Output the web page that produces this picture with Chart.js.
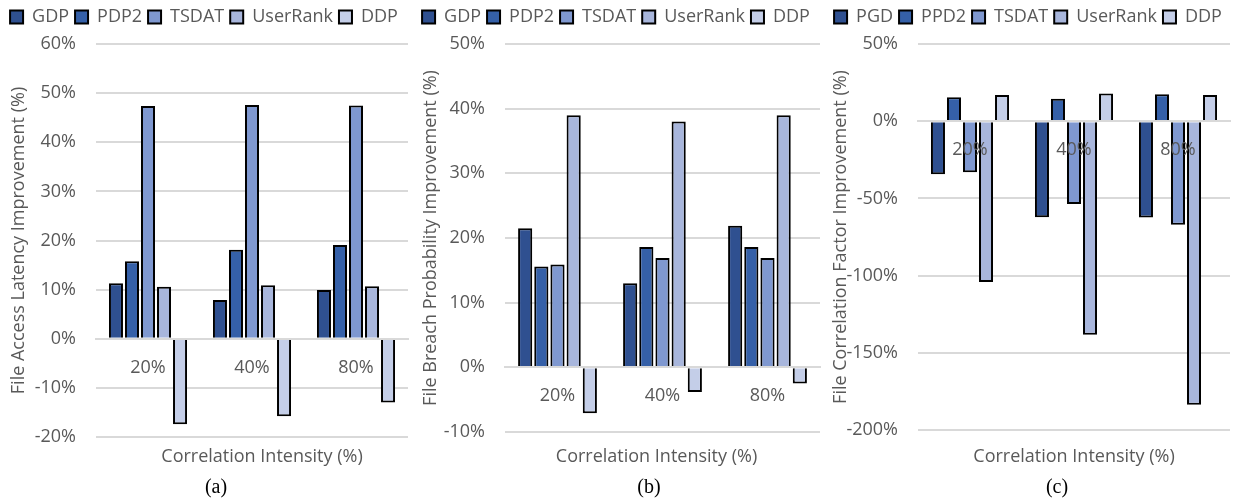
<!DOCTYPE html>
<html>
<head>
<meta charset="utf-8">
<script src="https://cdn.jsdelivr.net/npm/chart.js@4.4.1/dist/chart.umd.min.js"></script>
<style>
  html, body { margin: 0; padding: 0; background: #ffffff; }
  #wrap { position: relative; width: 1236px; height: 500px; overflow: hidden; }
  canvas { position: absolute; top: 0; }
</style>
</head>
<body>
<div id="wrap">
  <canvas id="chartA" width="412" height="500" style="left:0px"></canvas>
  <canvas id="chartB" width="414" height="500" style="left:412px"></canvas>
  <canvas id="chartC" width="410" height="500" style="left:826px"></canvas>
</div>
<script>
// ---- data ----
const categories = ['20%', '40%', '80%'];
const seriesNamesAB = ['GDP', 'PDP2', 'TSDAT', 'UserRank', 'DDP'];
const seriesNamesC = ['PGD', 'PPD2', 'TSDAT', 'UserRank', 'DDP'];

// (a) File access latency improvement (%)
const latencyGDP      = [11.3, 7.9, 9.9];
const latencyPDP2     = [15.8, 18.1, 19.1];
const latencyTSDAT    = [47.4, 47.6, 47.5];
const latencyUserRank = [10.6, 10.9, 10.7];
const latencyDDP      = [-17.4, -15.8, -13.0];

// (b) File breach probability improvement (%)
const breachGDP      = [21.5, 13.0, 21.9];
const breachPDP2     = [15.6, 18.6, 18.6];
const breachTSDAT    = [15.9, 16.9, 16.9];
const breachUserRank = [39.0, 38.0, 39.0];
const breachDDP      = [-7.1, -3.8, -2.5];

// (c) File correlation factor improvement (%)
const corrPGD      = [-34.3, -62.2, -62.4];
const corrPPD2     = [15.5, 14.5, 17.5];
const corrTSDAT    = [-33.0, -53.7, -67.1];
const corrUserRank = [-104.2, -138.3, -183.7];
const corrDDP      = [17.0, 17.9, 17.0];

// y-axis tick ranges
const latencyTicks = { min: -20, max: 60, step: 10 };
const breachTicks  = { min: -10, max: 50, step: 10 };
const corrTicks    = { min: -200, max: 50, step: 50 };

// ---- styling ----
const palette = ['#2F5090', '#3560A8', '#7F98D0', '#A8B6DC', '#C4CEE8'];
const textGray = '#595959';
const gridGray = '#d9d9d9';
const sansFamily = '"Open Sans", "Noto Sans", sans-serif';

// Draws the x-axis caption under the plot and the panel letter.
const captionPlugin = {
  id: 'captions',
  afterDraw(chart, args, opts) {
    const ctx = chart.ctx;
    const area = chart.chartArea;
    ctx.save();
    ctx.textAlign = 'center';
    ctx.textBaseline = 'middle';
    ctx.fillStyle = textGray;
    ctx.font = '18px ' + sansFamily;
    ctx.fillText(opts.axisTitle, (area.left + area.right) / 2 + opts.axisTitleShift, opts.axisTitleY);
    ctx.fillStyle = '#000000';
    ctx.font = '20px "Liberation Serif", "Times New Roman", serif';
    ctx.fillText(opts.panel, opts.panelX, opts.panelY);
    ctx.restore();
  }
};

function makeDatasets(names, seriesList) {
  return names.map((name, i) => ({
    label: name,
    data: seriesList[i],
    backgroundColor: palette[i],
    borderColor: '#000000',
    borderWidth: 2,
    categoryPercentage: 0.77,
    barPercentage: 0.875
  }));
}

function makeChart(canvasId, cfg) {
  return new Chart(document.getElementById(canvasId), {
    type: 'bar',
    data: {
      labels: categories,
      datasets: makeDatasets(cfg.names, cfg.series)
    },
    plugins: [captionPlugin],
    options: {
      responsive: false,
      animation: false,
      events: [],
      layout: { padding: { left: 0, right: cfg.padRight, top: 2, bottom: cfg.padBottom } },
      plugins: {
        legend: {
          position: 'top',
          labels: {
            boxWidth: 13,
            boxHeight: 13,
            padding: 6,
            color: textGray,
            font: { family: sansFamily, size: 18 }
          }
        },
        subtitle: {
          display: true,
          text: '',
          weight: 100,
          padding: 0,
          font: { size: cfg.legendGap, lineHeight: 1 }
        },
        tooltip: { enabled: false },
        captions: {
          axisTitle: 'Correlation Intensity (%)',
          axisTitleShift: cfg.axisTitleShift,
          axisTitleY: 457,
          panel: cfg.panel,
          panelX: cfg.panelX,
          panelY: 488
        }
      },
      scales: {
        x: {
          position: { y: 0 },
          grid: { display: false, drawTicks: false },
          border: { display: true, color: gridGray, width: 2, z: 1 },
          ticks: {
            z: 2,
            padding: 18,
            color: textGray,
            font: { family: sansFamily, size: 18 }
          }
        },
        y: {
          min: cfg.ticks.min,
          max: cfg.ticks.max,
          afterFit: (scale) => { scale.width = cfg.axisWidth; },
          grid: { color: gridGray, lineWidth: 2, drawTicks: false },
          border: { display: false },
          ticks: {
            stepSize: cfg.ticks.step,
            padding: 20,
            color: textGray,
            font: { family: sansFamily, size: 18 },
            callback: (v) => v + '%'
          },
          title: {
            display: true,
            text: cfg.yTitle,
            color: textGray,
            padding: { top: cfg.titlePad, bottom: 0 },
            font: { family: sansFamily, size: 18 }
          }
        }
      }
    }
  });
}

makeChart('chartA', {
  names: seriesNamesAB,
  series: [latencyGDP, latencyPDP2, latencyTSDAT, latencyUserRank, latencyDDP],
  ticks: latencyTicks,
  yTitle: 'File Access Latency Improvement (%)',
  axisWidth: 96, padRight: 4, padBottom: 63, legendGap: 8,
  titlePad: 8, axisTitleShift: 10,
  panel: '(a)', panelX: 216
});

makeChart('chartB', {
  names: seriesNamesAB,
  series: [breachGDP, breachPDP2, breachTSDAT, breachUserRank, breachDDP],
  ticks: breachTicks,
  yTitle: 'File Breach Probability Improvement (%)',
  axisWidth: 93, padRight: 6, padBottom: 68, legendGap: 8,
  titlePad: 8, axisTitleShift: -6,
  panel: '(b)', panelX: 237
});

makeChart('chartC', {
  names: seriesNamesC,
  series: [corrPGD, corrPPD2, corrTSDAT, corrUserRank, corrDDP],
  ticks: corrTicks,
  yTitle: 'File Correlation Factor Improvement (%)',
  axisWidth: 92, padRight: 6, padBottom: 70, legendGap: 8,
  titlePad: 4, axisTitleShift: 0,
  panel: '(c)', panelX: 231
});
</script>
</body>
</html>
